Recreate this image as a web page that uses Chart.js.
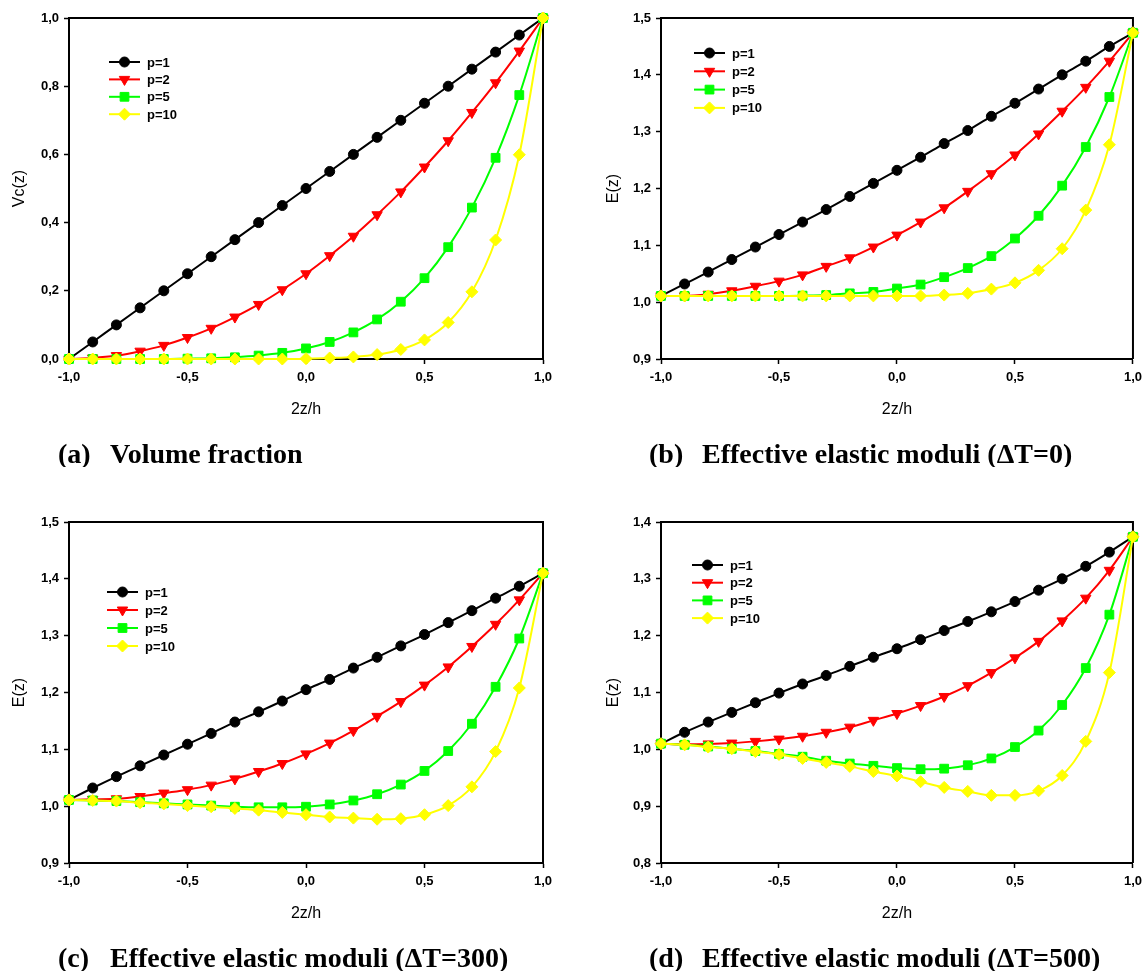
<!DOCTYPE html>
<html>
<head>
<meta charset="utf-8">
<script src="https://cdn.jsdelivr.net/npm/chart.js@4.4.1/dist/chart.umd.min.js"></script>
<style>
  html, body { margin: 0; padding: 0; background: #fff; overflow: hidden; }
  #page { position: relative; width: 1148px; height: 971px; }
  canvas { position: absolute; }
</style>
</head>
<body>
<div id="page">
  <canvas id="chartA" width="574" height="467" style="left:0;top:0"></canvas>
  <canvas id="chartB" width="574" height="467" style="left:574px;top:0"></canvas>
  <canvas id="chartC" width="574" height="467" style="left:0;top:504px"></canvas>
  <canvas id="chartD" width="574" height="467" style="left:574px;top:504px"></canvas>
</div>
<script>
// thickness coordinate 2z/h
const zPos = [-1.0, -0.9, -0.8, -0.7, -0.6, -0.5, -0.4, -0.3, -0.2, -0.1, 0.0,
              0.1, 0.2, 0.3, 0.4, 0.5, 0.6, 0.7, 0.8, 0.9, 1.0]
const seriesNames = ['p=1', 'p=2', 'p=5', 'p=10']

// (a) volume fraction Vc(z)
const vcP1 = [0, 0.05, 0.10, 0.15, 0.20, 0.25, 0.30, 0.35, 0.40, 0.45, 0.50, 0.55, 0.60, 0.65, 0.70, 0.75, 0.80, 0.85, 0.90, 0.95, 1.0]
const vcP2 = [0, 0.003, 0.010, 0.023, 0.040, 0.063, 0.090, 0.123, 0.160, 0.203, 0.250, 0.303, 0.360, 0.423, 0.490, 0.563, 0.640, 0.723, 0.810, 0.903, 1.0]
const vcP5 = [0, 0, 0, 0, 0, 0.001, 0.002, 0.005, 0.010, 0.018, 0.031, 0.050, 0.078, 0.116, 0.168, 0.237, 0.328, 0.444, 0.590, 0.774, 1.0]
const vcP10 = [0, 0, 0, 0, 0, 0, 0, 0, 0, 0, 0.001, 0.003, 0.006, 0.013, 0.028, 0.056, 0.107, 0.197, 0.349, 0.599, 1.0]

// (b) E(z) at dT = 0
const eT0P1 = [1.011, 1.032, 1.053, 1.075, 1.097, 1.119, 1.141, 1.163, 1.186, 1.209, 1.232, 1.255, 1.279, 1.302, 1.327, 1.350, 1.375, 1.400, 1.424, 1.450, 1.474]
const eT0P2 = [1.011, 1.011, 1.014, 1.020, 1.028, 1.037, 1.048, 1.063, 1.078, 1.097, 1.118, 1.141, 1.166, 1.195, 1.226, 1.259, 1.296, 1.336, 1.378, 1.424, 1.474]
const eT0P5 = [1.011, 1.011, 1.011, 1.011, 1.011, 1.011, 1.0115, 1.0125, 1.0155, 1.018, 1.024, 1.031, 1.044, 1.060, 1.081, 1.112, 1.152, 1.205, 1.273, 1.361, 1.474]
const eT0P10 = [1.011, 1.011, 1.011, 1.011, 1.011, 1.011, 1.011, 1.011, 1.011, 1.011, 1.011, 1.011, 1.0125, 1.0155, 1.023, 1.034, 1.056, 1.094, 1.162, 1.277, 1.474]

// (c) E(z) at dT = 300
const eT300P1 = [1.011, 1.032, 1.052, 1.071, 1.090, 1.109, 1.128, 1.148, 1.166, 1.185, 1.205, 1.223, 1.243, 1.262, 1.282, 1.302, 1.323, 1.344, 1.366, 1.387, 1.410]
const eT300P2 = [1.011, 1.012, 1.013, 1.017, 1.023, 1.029, 1.037, 1.048, 1.061, 1.075, 1.092, 1.111, 1.133, 1.158, 1.184, 1.213, 1.245, 1.281, 1.320, 1.363, 1.410]
const eT300P5 = [1.011, 1.010, 1.009, 1.007, 1.005, 1.003, 1.001, 0.999, 0.998, 0.998, 0.999, 1.003, 1.010, 1.021, 1.038, 1.062, 1.097, 1.145, 1.210, 1.295, 1.410]
const eT300P10 = [1.011, 1.010, 1.009, 1.006, 1.004, 1.001, 0.999, 0.996, 0.993, 0.989, 0.985, 0.981, 0.979, 0.977, 0.978, 0.985, 1.001, 1.034, 1.096, 1.208, 1.410]

// (d) E(z) at dT = 500
const eT500P1 = [1.010, 1.030, 1.048, 1.065, 1.082, 1.099, 1.115, 1.130, 1.146, 1.162, 1.177, 1.193, 1.209, 1.225, 1.242, 1.260, 1.280, 1.300, 1.322, 1.347, 1.374]
const eT500P2 = [1.010, 1.009, 1.0095, 1.011, 1.014, 1.018, 1.023, 1.030, 1.039, 1.051, 1.063, 1.077, 1.093, 1.112, 1.135, 1.161, 1.190, 1.226, 1.266, 1.315, 1.374]
const eT500P5 = [1.010, 1.008, 1.005, 1.001, 0.997, 0.992, 0.987, 0.980, 0.975, 0.971, 0.967, 0.965, 0.966, 0.972, 0.984, 1.004, 1.033, 1.078, 1.143, 1.237, 1.374]
const eT500P10 = [1.010, 1.008, 1.004, 1.001, 0.996, 0.991, 0.984, 0.977, 0.970, 0.961, 0.953, 0.943, 0.933, 0.926, 0.919, 0.919, 0.927, 0.954, 1.014, 1.135, 1.374]

const seriesColors = ['#000000', '#ff0000', '#00ff00', '#ffff00']
const markerStyles = ['circle', 'triangle', 'rect', 'rectRot']
const markerRotation = [0, 180, 0, 0]
const markerRadius = [5, 6, 6.2, 6]

const sansFont = "'Liberation Sans', Arial, Helvetica, sans-serif"
const serifFont = "'Liberation Serif', 'Times New Roman', serif"

const commaDecimal = (v) => Number(v).toFixed(1).replace('.', ',')

// black frame on top and right of plot area
const framePlugin = {
    id: 'frame',
    beforeDatasetsDraw(chart) {
        const {ctx, chartArea: a} = chart
        ctx.save()
        ctx.strokeStyle = '#000'
        ctx.lineWidth = 2
        ctx.beginPath()
        ctx.moveTo(a.left, a.top)
        ctx.lineTo(a.right, a.top)
        ctx.lineTo(a.right, a.bottom)
        ctx.stroke()
        ctx.restore()
    }
}

// legend drawn inside the plot, line + marker then label
const insideLegend = {
    id: 'insideLegend',
    afterDatasetsDraw(chart, args, opts) {
        const {ctx, chartArea: a} = chart
        ctx.save()
        chart.data.datasets.forEach((ds, i) => {
            const x0 = a.left + opts.dx
            const y = a.top + opts.dy + i * opts.rowGap
            ctx.strokeStyle = ds.borderColor
            ctx.lineWidth = 2
            ctx.beginPath()
            ctx.moveTo(x0, y)
            ctx.lineTo(x0 + 31, y)
            ctx.stroke()
            ctx.fillStyle = ds.backgroundColor
            ctx.lineWidth = 1
            Chart.helpers.drawPoint(ctx, {
                pointStyle: ds.pointStyle,
                rotation: ds.pointRotation,
                radius: ds.pointRadius,
                borderWidth: 1
            }, x0 + 15.5, y)
            ctx.fillStyle = '#000'
            ctx.font = 'bold 13px ' + sansFont
            ctx.textBaseline = 'middle'
            ctx.fillText(ds.label, x0 + 38, y + 1)
        })
        ctx.restore()
    }
}

// caption under each panel
const captionPlugin = {
    id: 'caption',
    afterDraw(chart, args, opts) {
        const {ctx} = chart
        ctx.save()
        ctx.fillStyle = '#000'
        ctx.font = 'bold 28px ' + serifFont
        ctx.textBaseline = 'alphabetic'
        ctx.fillText(opts.tag, opts.tagX, 463)
        ctx.fillText(opts.text, opts.textX, 463)
        ctx.restore()
    }
}

function makePanel(canvasId, cfg) {
    const datasets = cfg.series.map((vals, i) => ({
        label: seriesNames[i],
        data: zPos.map((z, j) => ({x: z, y: vals[j]})),
        borderColor: seriesColors[i],
        backgroundColor: seriesColors[i],
        borderWidth: 2,
        pointStyle: markerStyles[i],
        pointRotation: markerRotation[i],
        pointRadius: markerRadius[i],
        pointBorderWidth: 1,
        pointBorderColor: seriesColors[i],
        pointBackgroundColor: seriesColors[i],
        cubicInterpolationMode: 'monotone',
        order: 3 - i,
        clip: false
    }))

    const tickFont = {family: sansFont, size: 13, weight: 'bold'}
    const titleFont = {family: sansFont, size: 16}

    return new Chart(document.getElementById(canvasId), {
        type: 'line',
        data: {datasets},
        options: {
            responsive: false,
            animation: false,
            devicePixelRatio: 1,
            layout: {padding: {left: 0, top: 18, right: cfg.padRight, bottom: 47}},
            plugins: {
                legend: {display: false},
                tooltip: {enabled: false},
                insideLegend: cfg.legend,
                caption: cfg.caption
            },
            scales: {
                x: {
                    type: 'linear',
                    min: -1, max: 1,
                    afterFit: (s) => { s.height = 61 },
                    ticks: {stepSize: 0.5, color: '#000', font: tickFont, padding: 6,
                            maxRotation: 0, callback: commaDecimal},
                    grid: {drawOnChartArea: false, drawTicks: true, tickLength: 5,
                           tickColor: '#000', tickWidth: 1.5},
                    border: {display: true, color: '#000', width: 2},
                    title: {display: true, text: '2z/h', color: '#000', font: titleFont,
                            padding: {top: 0, bottom: 1}}
                },
                y: {
                    min: cfg.yMin, max: cfg.yMax,
                    afterFit: (s) => { s.width = cfg.yWidth },
                    ticks: {stepSize: cfg.yStep, color: '#000', font: tickFont, padding: 5,
                            callback: commaDecimal},
                    grid: {drawOnChartArea: false, drawTicks: true, tickLength: 5,
                           tickColor: '#000', tickWidth: 1.5},
                    border: {display: true, color: '#000', width: 2},
                    title: {display: true, text: cfg.yTitle, color: '#000', font: titleFont,
                            padding: {top: cfg.yTitlePad, bottom: 0}}
                }
            }
        },
        plugins: [framePlugin, insideLegend, captionPlugin]
    })
}

makePanel('chartA', {
    series: [vcP1, vcP2, vcP5, vcP10],
    yMin: 0, yMax: 1, yStep: 0.2, yTitle: 'Vc(z)',
    yWidth: 69, yTitlePad: 10, padRight: 31,
    legend: {dx: 40, dy: 44, rowGap: 17.4},
    caption: {tag: '(a)', tagX: 58, text: 'Volume fraction', textX: 110}
})

makePanel('chartB', {
    series: [eT0P1, eT0P2, eT0P5, eT0P10],
    yMin: 0.9, yMax: 1.5, yStep: 0.1, yTitle: 'E(z)',
    yWidth: 87, yTitlePad: 30, padRight: 13,
    legend: {dx: 33, dy: 35, rowGap: 18.3},
    caption: {tag: '(b)', tagX: 75, text: 'Effective elastic moduli (\u0394T=0)', textX: 128}
})

makePanel('chartC', {
    series: [eT300P1, eT300P2, eT300P5, eT300P10],
    yMin: 0.9, yMax: 1.5, yStep: 0.1, yTitle: 'E(z)',
    yWidth: 69, yTitlePad: 10, padRight: 31,
    legend: {dx: 38, dy: 70, rowGap: 18},
    caption: {tag: '(c)', tagX: 58, text: 'Effective elastic moduli (\u0394T=300)', textX: 110}
})

makePanel('chartD', {
    series: [eT500P1, eT500P2, eT500P5, eT500P10],
    yMin: 0.8, yMax: 1.4, yStep: 0.1, yTitle: 'E(z)',
    yWidth: 87, yTitlePad: 30, padRight: 13,
    legend: {dx: 31, dy: 43, rowGap: 17.7},
    caption: {tag: '(d)', tagX: 75, text: 'Effective elastic moduli (\u0394T=500)', textX: 128}
})
</script>
</body>
</html>
